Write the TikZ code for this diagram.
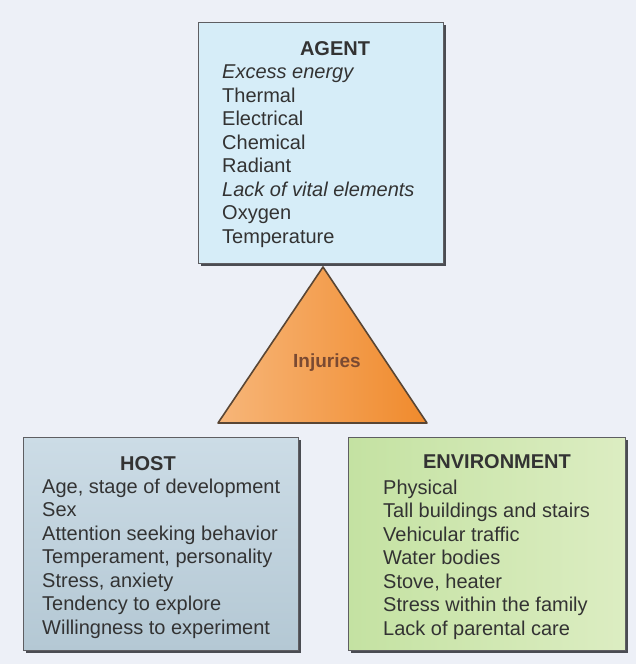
\documentclass[tikz,border=0pt]{standalone}
\usepackage{fontspec}
\setmainfont{Liberation Sans}
\usetikzlibrary{positioning}
\definecolor{bgc}{HTML}{EDF0F7}
\definecolor{agentc}{HTML}{D6EDF8}
\definecolor{hosttop}{HTML}{CCDCE6}
\definecolor{hostbot}{HTML}{B4C8D4}
\definecolor{envl}{HTML}{C4E2A2}
\definecolor{envr}{HTML}{DCEDC2}
\definecolor{edgec}{HTML}{5E5E62}
\definecolor{shadc}{HTML}{4A4C52}
\definecolor{txtc}{HTML}{333333}
\definecolor{triL}{HTML}{F7B679}
\definecolor{triR}{HTML}{F08A2C}
\definecolor{triedge}{HTML}{5A4634}
\definecolor{injc}{HTML}{7A4A32}
\tikzset{
  boxframe/.style={draw=edgec, line width=0.8pt, inner sep=0pt},
  heading/.style={font=\fontsize{20}{23.5}\selectfont\bfseries, text=txtc, anchor=base, inner sep=0pt},
  listtext/.style={font=\fontsize{20}{23.5}\selectfont, text=txtc, align=left, anchor=base west, inner sep=0pt},
}
\begin{document}
\begin{tikzpicture}[x=1pt,y=-1pt]
\fill[bgc] (0,0) rectangle (636,664);
\useasboundingbox (0,0) rectangle (636,664);

% AGENT box
\fill[shadc] (201,25) rectangle (446,266);
\fill[agentc] (198,22) rectangle (443,263);
\draw[boxframe] (198,22) rectangle (443,263);
\node[heading] (agenth) at (335,55) {AGENT};
\node[listtext] (agentl) at (222,243) {\itshape Excess energy\\Thermal\\Electrical\\Chemical\\Radiant\\\itshape Lack of vital elements\\Oxygen\\Temperature};

% triangle
\coordinate (apex) at (323,267);
\coordinate (bl) at (218,423);
\coordinate (br) at (427,423);
\shade[left color=triL, right color=triR] (apex) -- (br) -- (bl) -- cycle;
\draw[triedge, line width=1.6pt, line join=round] (apex) -- (br) -- (bl) -- cycle;
\node[font=\fontsize{19}{22}\selectfont\bfseries, text=injc, inner sep=0pt] (inj) at (327,363) {Injuries};

% HOST box
\fill[shadc] (26,440) rectangle (301,653);
\shade[top color=hosttop, bottom color=hostbot] (23,437) rectangle (298,650);
\draw[boxframe] (23,437) rectangle (298,650);
\node[heading] (hosth) at (148,470) {HOST};
\node[listtext] (hostl) at (42,634) {Age, stage of development\\Sex\\Attention seeking behavior\\Temperament, personality\\Stress, anxiety\\Tendency to explore\\Willingness to experiment};

% ENVIRONMENT box
\fill[shadc] (351,440) rectangle (628,653);
\shade[left color=envl, right color=envr] (348,437) rectangle (625,650);
\draw[boxframe] (348,437) rectangle (625,650);
\node[heading] (envh) at (497,468) {ENVIRONMENT};
\node[listtext] (envl) at (383,635) {Physical\\Tall buildings and stairs\\Vehicular traffic\\Water bodies\\Stove, heater\\Stress within the family\\Lack of parental care};
\end{tikzpicture}
\end{document}
